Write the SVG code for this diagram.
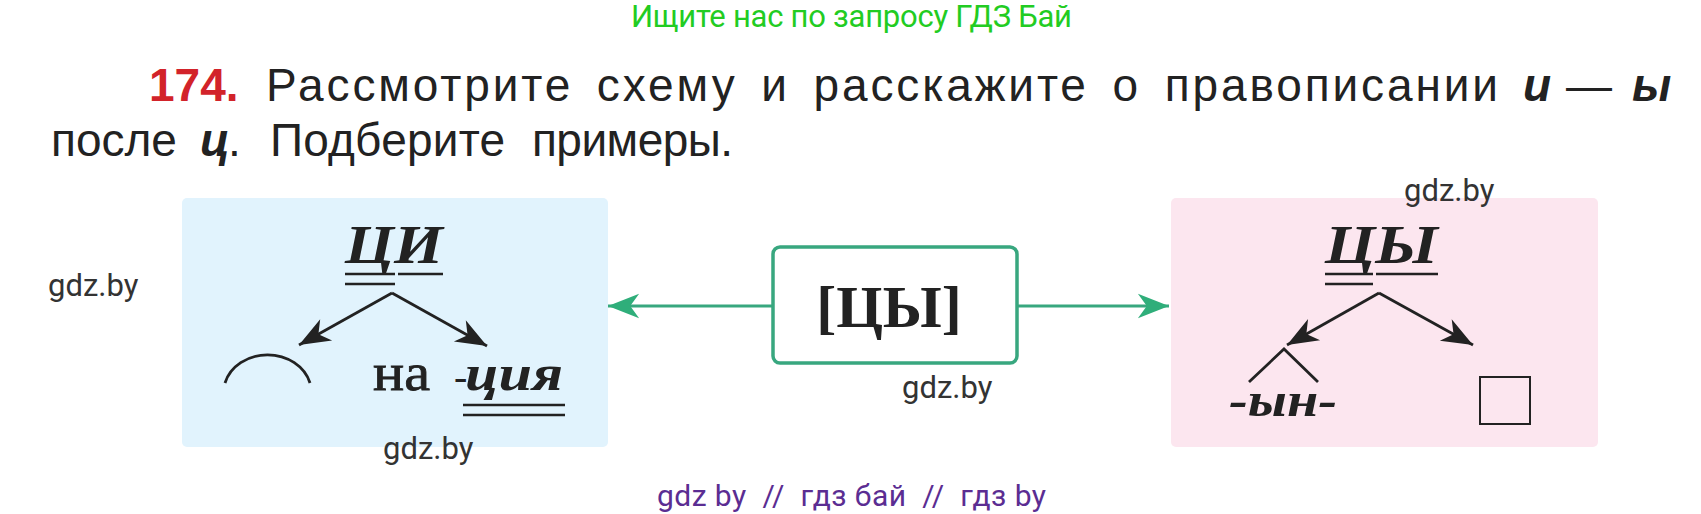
<svg xmlns="http://www.w3.org/2000/svg" width="1701" height="514" viewBox="0 0 1701 514">
<style>
.title{font-family:"Liberation Sans",Arial,sans-serif;font-size:46px;fill:#222}
.num{fill:#d2232a;font-weight:bold}
.bi{font-weight:bold;font-style:italic}
.serif{font-family:"Liberation Serif","Times New Roman",serif;fill:#222}
.wm{font-family:"Roboto","Liberation Sans",sans-serif;font-size:31px;fill:#333}
.ul{stroke:#222;stroke-width:2.6;fill:none}
.blk{stroke:#222;stroke-width:2.8;fill:none}
.grn{stroke:#38a77f;stroke-width:3;fill:none}
</style>
<defs>
<marker id="ah" markerUnits="userSpaceOnUse" markerWidth="40" markerHeight="40" viewBox="-32 -16 36 32" refX="0" refY="0" orient="auto">
<path d="M0,0 L-28,-11 L-20,0 L-28,11 Z" fill="#222"/>
</marker>
<marker id="gh" markerUnits="userSpaceOnUse" markerWidth="40" markerHeight="40" viewBox="-32 -16 36 32" refX="0" refY="0" orient="auto">
<path d="M0,0 L-28,-11 L-20,0 L-28,11 Z" fill="#2fae7a"/>
</marker>
</defs>
<rect width="1701" height="514" fill="#fff"/>

<text x="631" y="27" font-family="Roboto,'Liberation Sans',sans-serif" font-size="31" fill="#22cc22" textLength="441">Ищите нас по запросу ГДЗ Бай</text>

<g id="title">
<text class="title num" x="149" y="101">174.</text>
<text class="title" x="266" y="101" textLength="1232" lengthAdjust="spacing" word-spacing="8">Рассмотрите схему и расскажите о правописании</text>
<text class="title" y="101">
<tspan x="1523" class="bi">и</tspan>
<tspan x="1566">—</tspan>
<tspan x="1632" class="bi">ы</tspan>
</text>
<text class="title" y="156">
<tspan x="51">после</tspan>
<tspan x="200" class="bi">ц</tspan>
<tspan x="228">.</tspan>
<tspan x="270" textLength="235">Подберите</tspan>
<tspan x="532" textLength="201">примеры.</tspan>
</text>
</g>

<g id="node-ci">
<rect x="182" y="198" width="426" height="249" rx="5" fill="#e1f3fd"/>
<text class="serif bi" x="345" y="263" font-size="54" textLength="98" lengthAdjust="spacingAndGlyphs">ЦИ</text>
<line class="ul" x1="345" y1="274" x2="395" y2="274"/>
<line class="ul" x1="345" y1="284" x2="395" y2="284"/>
<line class="ul" x1="398" y1="274" x2="443" y2="274"/>
<path class="blk" d="M225,383 A44 38 0 0 1 310,383" stroke-width="2.4"/>
<text class="serif" x="373" y="390" font-size="52" textLength="57" lengthAdjust="spacingAndGlyphs" stroke="#222" stroke-width="0.8">на</text>
<text class="serif" x="454" y="390" font-size="40">-</text>
<text class="serif bi" x="465" y="390" font-size="50" textLength="98" lengthAdjust="spacingAndGlyphs">ция</text>
<line class="ul" x1="463" y1="405" x2="565" y2="405"/>
<line class="ul" x1="463" y1="415" x2="565" y2="415"/>
</g>

<g id="node-cy-sound">
<rect x="773" y="247" width="244" height="116" rx="7" fill="#fff" stroke="#38a77f" stroke-width="3.5"/>
<text class="serif" x="889" y="327" font-size="60" font-weight="bold" text-anchor="middle">[ЦЫ]</text>
</g>

<g id="node-cy">
<rect x="1171" y="198" width="427" height="249" rx="5" fill="#fce6ef"/>
<text class="serif bi" x="1325" y="263" font-size="54" textLength="113" lengthAdjust="spacingAndGlyphs">ЦЫ</text>
<line class="ul" x1="1325" y1="274" x2="1373" y2="274"/>
<line class="ul" x1="1325" y1="284" x2="1373" y2="284"/>
<line class="ul" x1="1376" y1="274" x2="1438" y2="274"/>
<polyline class="blk" points="1249,382 1284,349 1318,382" stroke-width="3"/>
<text class="serif bi" x="1229" y="416" font-size="48" textLength="108" lengthAdjust="spacingAndGlyphs">-ын-</text>
<rect x="1480" y="377" width="50" height="47" fill="none" stroke="#222" stroke-width="2"/>
</g>

<g id="connectors">
<line class="grn" x1="773" y1="306" x2="608" y2="306" marker-end="url(#gh)"/>
<line class="grn" x1="1017" y1="306" x2="1169" y2="306" marker-end="url(#gh)"/>
<line class="blk" x1="392" y1="293" x2="299" y2="345" marker-end="url(#ah)"/>
<line class="blk" x1="392" y1="293" x2="487" y2="346" marker-end="url(#ah)"/>
<line class="blk" x1="1379" y1="293" x2="1287" y2="345" marker-end="url(#ah)"/>
<line class="blk" x1="1379" y1="293" x2="1473" y2="345" marker-end="url(#ah)"/>
</g>

<g id="watermarks">
<text class="wm" x="48" y="296">gdz.by</text>
<text class="wm" x="1404" y="201">gdz.by</text>
<text class="wm" x="902" y="398">gdz.by</text>
<text class="wm" x="383" y="459">gdz.by</text>
<text x="657" y="506" font-family="Roboto,'Liberation Sans',sans-serif" font-size="30" fill="#5b2d92" xml:space="preserve" textLength="389">gdz by  //  гдз бай  //  гдз by</text>
</g>
</svg>
